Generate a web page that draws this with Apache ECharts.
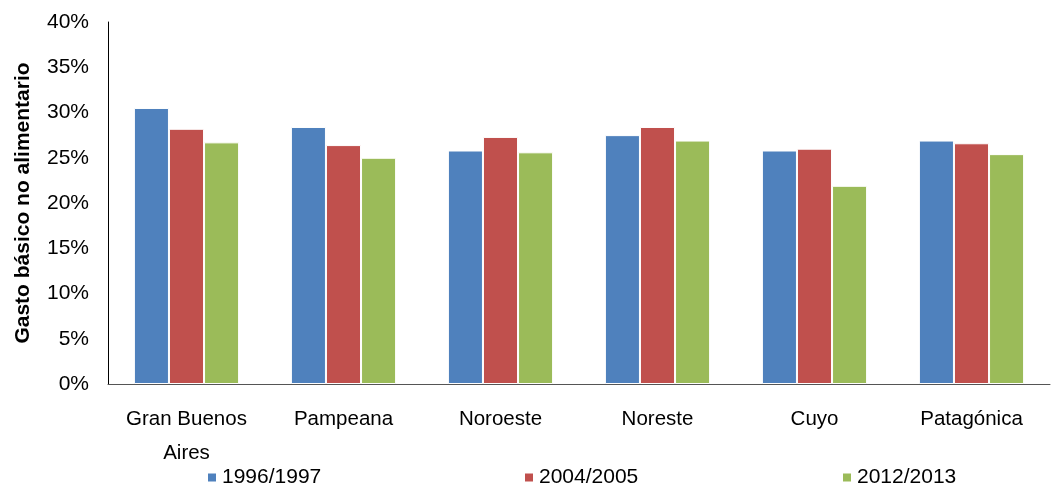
<!DOCTYPE html>
<html>
<head>
<meta charset="utf-8">
<script src="https://cdn.jsdelivr.net/npm/echarts@6/dist/echarts.min.js"></script>
<style>
html,body{margin:0;padding:0;background:#fff;}
#chart{width:1054px;height:486px;}
</style>
</head>
<body>
<div id="chart"></div>
<script>
const categories = ['Gran Buenos\nAires', 'Pampeana', 'Noroeste', 'Noreste', 'Cuyo', 'Patagónica'];
const seriesNames = ['1996/1997', '2004/2005', '2012/2013'];
const s1996 = [30.5, 28.4, 25.8, 27.5, 25.8, 26.9];
const s2004 = [28.2, 26.4, 27.3, 28.4, 26.0, 26.6];
const s2012 = [26.7, 25.0, 25.6, 26.9, 21.9, 25.4];
const yTicks = { min: 0, max: 40, interval: 5 };
const colors = ['#4F81BD', '#C0504D', '#9BBB59'];

const font = '"Liberation Sans", Arial, Helvetica, sans-serif';
const chart = echarts.init(document.getElementById('chart'), null, { renderer: 'canvas' });
const data = [s1996, s2004, s2012];
const legendLefts = [206, 523, 841];

chart.setOption({
  animation: false,
  textStyle: { fontFamily: font },
  grid: { left: 108, right: 4, top: 22, bottom: 102, containLabel: false },
  legend: seriesNames.map((n, i) => ({
    data: [{ name: n, icon: 'rect' }],
    left: legendLefts[i],
    top: 467,
    padding: 0,
    itemWidth: 10,
    itemHeight: 10,
    itemGap: 0,
    textStyle: { fontFamily: font, fontSize: 21, color: '#000' }
  })),
  xAxis: {
    type: 'category',
    data: categories,
    axisLine: { show: true, lineStyle: { color: '#555', width: 1 } },
    axisTick: { show: false },
    axisLabel: { color: '#000', fontSize: 20.5, fontFamily: font, margin: 18, lineHeight: 34, interval: 0 }
  },
  yAxis: {
    type: 'value',
    min: yTicks.min,
    max: yTicks.max,
    interval: yTicks.interval,
    name: 'Gasto básico no alimentario',
    nameLocation: 'middle',
    nameGap: 74,
    nameTextStyle: { fontFamily: font, fontSize: 21, fontWeight: 'bold', color: '#000' },
    axisLine: { show: true, lineStyle: { color: '#000', width: 1 } },
    axisTick: { show: false },
    splitLine: { show: false },
    axisLabel: { color: '#000', fontSize: 21, fontFamily: font, margin: 19, formatter: v => v + '%' }
  },
  series: seriesNames.map((n, i) => ({
    name: n,
    type: 'bar',
    data: data[i],
    barGap: '0%',
    barCategoryGap: '33%',
    itemStyle: { color: colors[i], borderColor: '#fff', borderWidth: 1 }
  }))
});
</script>
</body>
</html>
